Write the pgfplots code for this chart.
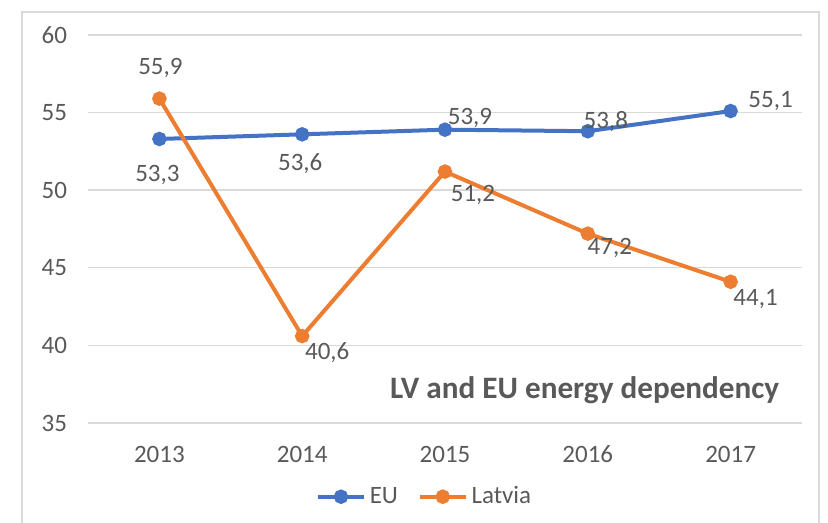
\documentclass[border=0pt]{standalone}
\usepackage{pgfplots}
\pgfplotsset{compat=1.18}
\usepackage{fontspec}
\setmainfont{Carlito}
\definecolor{eublue}{HTML}{4472C4}
\definecolor{lvorange}{HTML}{ED7D31}
\definecolor{txt}{HTML}{595959}
\definecolor{gridgray}{HTML}{D9D9D9}
\begin{document}
\begin{tikzpicture}
\path[use as bounding box] (0,0) rectangle (414pt,261.5pt);
\draw[gridgray, line width=0.6pt] (11pt,-5pt) rectangle (409.5pt,255.5pt);
\begin{axis}[
  at={(44pt,50pt)}, anchor=south west,
  scale only axis, width=357pt, height=194pt,
  xmin=-0.5, xmax=4.5, ymin=35, ymax=60,
  xtick={0,1,2,3,4}, xticklabels={2013,2014,2015,2016,2017},
  ytick={35,40,45,50,55,60},
  axis lines*=left,
  axis line style={draw=none},
  major tick length=0pt,
  ymajorgrids, xmajorgrids=false, grid style={draw=gridgray, line width=0.7pt},
  tick label style={font=\fontsize{12.5}{14}\selectfont, text=txt},
  /pgf/number format/assume math mode=true,
  yticklabel style={xshift=-7pt},
  xticklabel style={yshift=-8pt},
  legend style={at={(0.473,-0.19)}, anchor=center, draw=none, fill=none,
    legend columns=2, font=\fontsize{12.5}{14}\selectfont, text=txt,
    /tikz/every even column/.append style={column sep=8pt}},
  legend image code/.code={\draw[mark repeat=2,mark phase=2] plot coordinates {(0cm,0cm) (0.4cm,0cm) (0.8cm,0cm)};},
  nodes near coords={\pgfmathprintnumber[use comma, fixed, fixed zerofill, precision=1]{\pgfplotspointmeta}},
  visualization depends on={\thisrow{dx} \as \dx},
  visualization depends on={\thisrow{dy} \as \dy},
  every node near coord/.append style={anchor=center, xshift=\dx pt, yshift=\dy pt,
    font=\fontsize{12.5}{14}\selectfont, text=txt},
  clip=false,
]
\addplot[eublue, line width=2pt, mark=*, mark size=2.6pt, mark options={fill=eublue}] table[x=x, y=y] {
x y dx dy
0 53.3 -1 -18
1 53.6 -1 -14.5
2 53.9 12.5 6
3 53.8 9 5
4 55.1 20 5
};
\addlegendentry{EU}
\addplot[lvorange, line width=2pt, mark=*, mark size=2.6pt, mark options={fill=lvorange}] table[x=x, y=y] {
x y dx dy
0 55.9 0.5 15.5
1 40.6 12.5 -8.5
2 51.2 14 -11.5
3 47.2 11 -7
4 44.1 12.5 -8.5
};
\addlegendentry{Latvia}
\node[anchor=east, font=\fontsize{15.6}{18}\selectfont\bfseries, text=txt] at (rel axis cs:0.978,0.085) {LV and EU energy dependency};
\end{axis}
\end{tikzpicture}
\end{document}
